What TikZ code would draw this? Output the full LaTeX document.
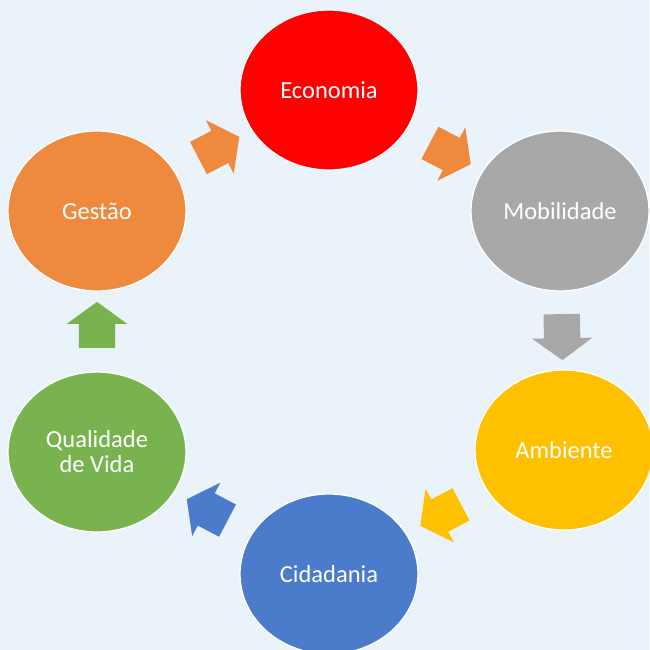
\documentclass[tikz,border=0pt]{standalone}
\usepackage{fontspec}
\setmainfont{Carlito}
\usetikzlibrary{shapes.geometric,shapes.arrows}
\definecolor{cycBack}{HTML}{EAF2FA}
\definecolor{cycRed}{HTML}{FF0000}
\definecolor{cycOrange}{HTML}{EF893D}
\definecolor{cycGray}{HTML}{A8A8A8}
\definecolor{cycGold}{HTML}{FFC000}
\definecolor{cycBlue}{HTML}{4B7BCB}
\definecolor{cycGreen}{HTML}{79B350}
\tikzset{
  cycle node/.style={ellipse, draw=white, line width=1.3pt,
    minimum width=178pt, minimum height=160pt, inner sep=0pt,
    text=white, align=center, font=\fontsize{24.5}{25}\selectfont},
  cycle arrow/.style={single arrow, draw=none, minimum height=46pt,
    inner xsep=0pt, inner ysep=18pt, single arrow head extend=12pt,
    single arrow tip angle=108, sloped, allow upside down},
}

\begin{document}
\begin{tikzpicture}[x=1pt, y=-1pt]
  % Background
  \fill[cycBack] (0,0) rectangle (649,650);
  \useasboundingbox (0,0) rectangle (649,650);

  % ---- Ring of topics ----
  \node[cycle node, fill=cycRed]    (eco) at (329,90)  {Economia};
  \node[cycle node, fill=cycGray]   (mob) at (560,211) {Mobilidade};
  \node[cycle node, fill=cycGold]   (amb) at (564,450) {Ambiente};
  \node[cycle node, fill=cycBlue]   (cid) at (329,574) {Cidadania};
  \node[cycle node, fill=cycGreen]  (qua) at (97,452)  {Qualidade\\de Vida};
  \node[cycle node, fill=cycOrange] (ges) at (97,211)  {Gestão};

  % ---- Block arrows between neighbours ----
  \path (ges) -- node[cycle arrow, fill=cycOrange] {} (eco);
  \path (eco) -- node[cycle arrow, fill=cycOrange] {} (mob);
  \path (mob) -- node[cycle arrow, fill=cycGray]   {} (amb);
  \path (amb) -- node[cycle arrow, fill=cycGold]   {} (cid);
  \path (cid) -- node[cycle arrow, fill=cycBlue]   {} (qua);
  \path (qua) -- node[cycle arrow, fill=cycGreen]  {} (ges);
\end{tikzpicture}
\end{document}
